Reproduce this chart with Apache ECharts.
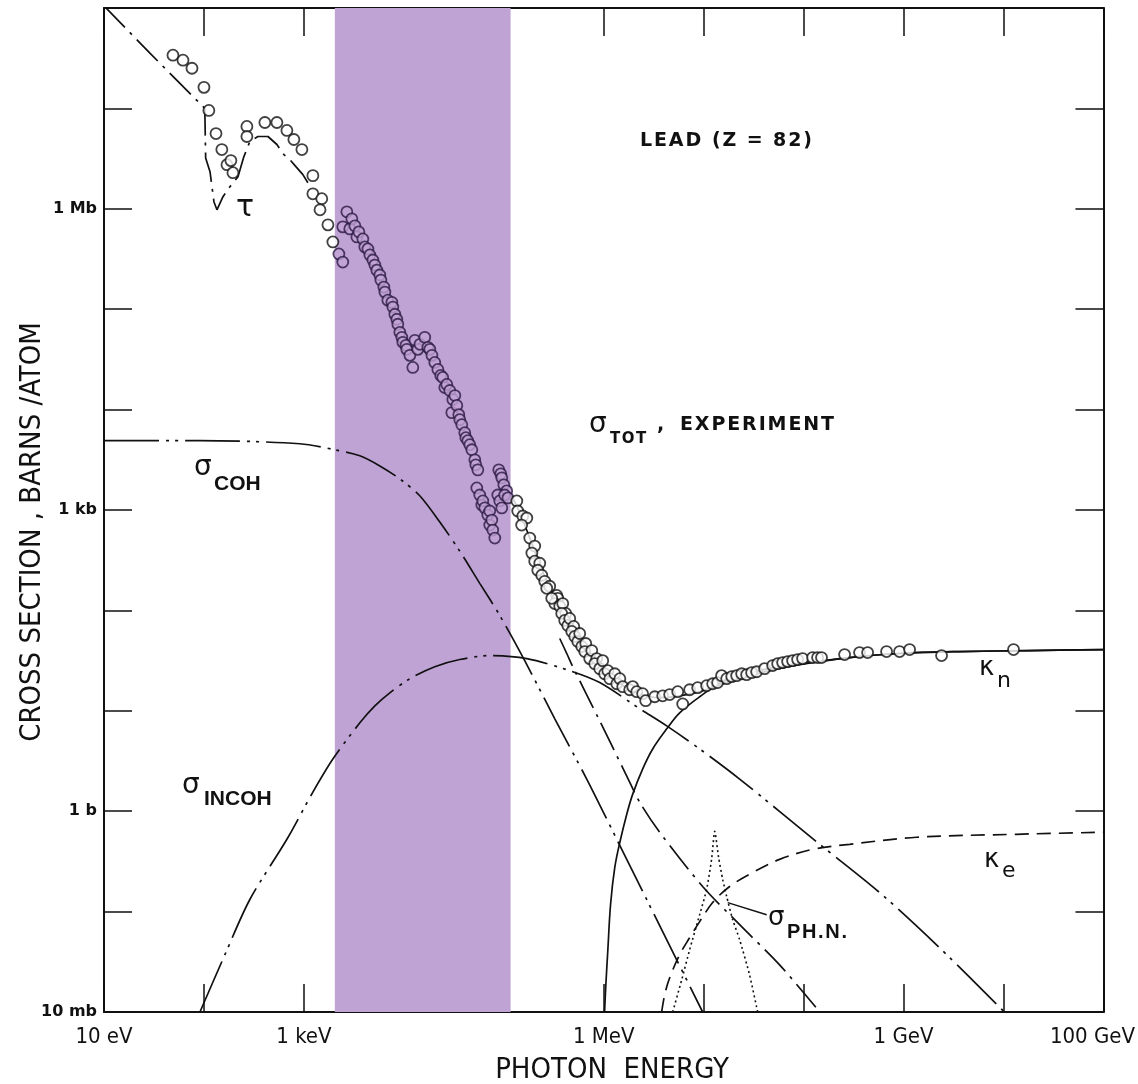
<!DOCTYPE html>
<html>
<head>
<meta charset="utf-8">
<title>Photon cross sections in lead</title>
<script src="https://cdn.jsdelivr.net/npm/echarts@6/dist/echarts.min.js"></script>
<style>
  html, body { margin: 0; padding: 0; background: #ffffff; }
  #chart { width: 1138px; height: 1084px; }
</style>
</head>
<body>
<div id="chart"></div>
<script>
// Photon energy in eV, cross sections in barns/atom (lead, Z = 82).

// Tick labels keyed by decade exponent
const energyTickLabels = { 1: '10 eV', 3: '1 keV', 6: '1 MeV', 9: '1 GeV', 11: '100 GeV' };
const sigmaTickLabels = { '-2': '10 mb', 0: '1 b', 3: '1 kb', 6: '1 Mb' };

// Highlighted energy window [eV]
const bandRange = [2.04e3, 1.17e5];

// Measured total cross section [E (eV), sigma (b)]
const measured = [
  [49, 3.39e7], [61.7, 3.02e7], [75.9, 2.51e7], [100, 1.62e7], [112, 9.55e6], [132, 5.62e6],
  [151, 3.89e6], [170, 2.75e6], [186, 3.02e6], [195, 2.29e6], [269, 6.61e6], [269, 5.25e6],
  [407, 7.24e6], [537, 7.24e6], [676, 6.03e6], [794, 4.90e6], [955, 3.89e6], [1230, 2.14e6],
  [1230, 1.41e6], [1510, 1.26e6], [1450, 9.77e5], [1740, 6.92e5], [1950, 4.68e5], [2240, 3.55e5],
  [2450, 2.95e5],
  [2450, 6.61e5], [2690, 9.33e5], [2880, 6.31e5], [3020, 7.94e5], [3240, 6.76e5], [3390, 5.25e5],
  [3550, 5.89e5], [3890, 5.01e5], [4070, 4.17e5], [4370, 3.98e5], [4570, 3.47e5], [4900, 3.09e5],
  [5130, 2.75e5], [5370, 2.45e5], [5750, 2.19e5], [5890, 1.95e5], [6310, 1.66e5], [6460, 1.48e5],
  [6920, 1.23e5], [7590, 1.17e5], [7760, 1.05e5], [8130, 8.91e4], [8510, 7.94e4], [8710, 7.08e4],
  [9120, 5.89e4], [9550, 5.25e4], [9770, 4.68e4], [1.05e4, 4.37e4], [1.07e4, 3.98e4],
  [1.15e4, 3.47e4], [1.23e4, 2.63e4],
  [1.29e4, 4.90e4], [1.38e4, 3.98e4], [1.45e4, 4.47e4], [1.62e4, 5.25e4], [1.74e4, 4.17e4],
  [1.82e4, 3.98e4], [1.91e4, 3.47e4], [2.04e4, 2.95e4], [2.19e4, 2.51e4], [2.34e4, 2.19e4],
  [2.45e4, 2.09e4], [2.57e4, 1.66e4], [2.69e4, 1.78e4], [2.88e4, 1.55e4], [3.09e4, 1.26e4],
  [3.24e4, 1.38e4], [3.02e4, 9.33e3], [3.39e4, 1.10e4], [3.55e4, 8.91e3], [3.63e4, 7.94e3],
  [3.80e4, 7.08e3], [4.07e4, 5.89e3], [4.17e4, 5.25e3], [4.37e4, 4.90e3], [4.57e4, 4.47e3],
  [4.79e4, 3.98e3], [5.13e4, 3.16e3], [5.25e4, 2.82e3], [5.50e4, 2.51e3],
  [5.37e4, 1.66e3], [5.75e4, 1.41e3], [6.03e4, 1.12e3], [6.17e4, 1.23e3], [6.46e4, 1.05e3],
  [6.92e4, 891], [7.24e4, 977], [7.24e4, 708], [7.59e4, 794], [7.76e4, 631], [8.13e4, 525],
  [8.91e4, 2.51e3], [9.33e4, 2.29e3], [9.55e4, 2.09e3], [1.00e5, 1.78e3], [1.07e5, 1.55e3],
  [8.71e4, 1.41e3], [9.12e4, 1.23e3], [9.55e4, 1.05e3], [1.02e5, 1.41e3], [1.10e5, 1.32e3],
  [1.35e5, 1.23e3], [1.38e5, 977], [1.55e5, 871], [1.70e5, 832], [1.51e5, 708], [1.82e5, 525],
  [2.04e5, 437], [1.91e5, 372], [2.04e5, 309], [2.29e5, 295], [2.19e5, 251], [2.40e5, 224],
  [2.57e5, 195], [2.88e5, 174], [2.69e5, 166], [3.39e5, 141], [3.47e5, 132], [3.24e5, 117],
  [3.02e5, 132], [3.63e5, 110], [3.89e5, 117], [4.17e5, 93.3], [3.80e5, 93.3], [4.07e5, 79.4],
  [4.37e5, 70.8], [4.57e5, 83.2], [5.01e5, 69.2], [4.79e5, 61.7], [5.13e5, 55.0], [5.50e5, 49.0],
  [5.75e5, 58.9], [6.03e5, 43.7], [6.61e5, 46.8], [6.46e5, 38.9], [7.24e5, 33.1], [7.59e5, 39.8],
  [8.51e5, 33.1], [8.13e5, 29.5], [9.12e5, 26.3], [9.77e5, 31.6], [1.02e6, 23.4], [1.10e6, 25.1],
  [1.15e6, 20.9], [1.29e6, 23.4], [1.35e6, 18.6], [1.45e6, 20.9], [1.55e6, 17.4], [1.82e6, 16.2],
  [1.95e6, 17.4], [2.14e6, 15.5], [2.45e6, 14.8], [2.63e6, 12.6], [3.24e6, 13.8], [3.89e6, 14.1],
  [4.57e6, 14.5], [5.50e6, 15.5], [6.17e6, 11.7], [7.24e6, 16.2], [8.71e6, 17.0], [1.07e7, 17.8],
  [1.23e7, 18.6], [1.38e7, 19.1], [1.51e7, 22.4], [1.70e7, 20.9], [1.91e7, 21.9], [2.14e7, 22.4],
  [2.40e7, 23.4], [2.69e7, 22.9], [3.02e7, 24.0], [3.39e7, 24.5], [4.07e7, 26.3], [4.90e7, 28.2],
  [5.50e7, 29.5], [6.17e7, 30.2], [6.92e7, 30.9], [7.76e7, 31.6], [8.71e7, 32.4], [9.77e7, 33.1],
  [1.23e8, 33.9], [1.38e8, 33.9], [1.51e8, 33.9], [2.57e8, 36.3], [3.63e8, 38.0], [4.37e8, 38.0],
  [6.76e8, 38.9], [9.12e8, 38.9], [1.15e9, 40.7], [2.40e9, 35.5], [1.26e10, 40.7]
];

// Atomic photoeffect (tau), low-energy part with the absorption-edge structure
const tauLow = [
  [10, 1.05e8], [28.8, 3.55e7], [102, 1.0e7], [104, 3.2e6], [115, 2.34e6], [126, 1.17e6],
  [135, 9.77e5], [155, 1.32e6], [182, 1.66e6], [219, 2.09e6], [251, 3.31e6], [288, 4.68e6],
  [347, 5.25e6], [437, 5.25e6], [537, 4.37e6], [631, 3.47e6], [724, 3.09e6], [832, 2.63e6],
  [977, 2.19e6], [1096, 1.82e6]
];
// Atomic photoeffect (tau), above the K edge
const tauHigh = [
  [3.63e5, 52.5], [4.27e5, 37.2], [4.90e5, 27.5], [9.12e5, 7.94], [1.70e6, 2.24], [2.29e6, 1.23],
  [3.63e6, 0.617], [9.77e6, 0.178], [2.29e7, 0.0741], [5.75e7, 0.0295], [1.45e8, 0.01]
];
// Rayleigh (coherent) scattering
const sigmaCoh = [
  [10, 4.90e3], [91.2, 4.90e3], [912, 4.57e3], [2.04e3, 3.98e3], [3.63e3, 3.47e3], [5.75e3, 2.75e3],
  [9.12e3, 2.04e3], [1.45e4, 1.38e3], [2.29e4, 759], [3.63e4, 389], [5.75e4, 186], [9.12e4, 89.1],
  [1.62e5, 31.6], [3.24e5, 8.32], [6.76e5, 2.09], [1.35e6, 0.525], [2.69e6, 0.132],
  [5.37e6, 0.0331], [9.77e6, 0.01]
];
// Compton (incoherent) scattering
const sigmaIncoh = [
  [91.2, 0.01], [162, 0.0372], [288, 0.132], [676, 0.525], [1.23e3, 1.55], [1.95e3, 3.31],
  [3.63e3, 7.59], [5.13e3, 11.2], [7.24e3, 15.1], [1.15e4, 20.9], [2.04e4, 27.5], [3.63e4, 32.4],
  [7.24e4, 35.5], [1.70e5, 33.1], [4.57e5, 25.1], [9.12e5, 19.1], [2.29e6, 10.5], [4.27e6, 7.08],
  [9.12e6, 4.17], [2.29e7, 2.09], [1.45e8, 0.468], [5.75e8, 0.155], [2.29e9, 0.0437],
  [1.02e10, 0.01]
];
// Pair production in the nuclear field
const kappaN = [
  [1.02e6, 0.01], [1.05e6, 0.0186], [1.10e6, 0.0417], [1.17e6, 0.117], [1.29e6, 0.275],
  [1.45e6, 0.490], [1.70e6, 0.933], [1.95e6, 1.48], [2.45e6, 2.63], [3.09e6, 4.17], [4.27e6, 6.61],
  [5.75e6, 9.55], [9.12e6, 13.8], [1.55e7, 19.5], [3.63e7, 25.1], [9.12e7, 29.5], [2.88e8, 33.9],
  [9.12e8, 37.2], [3.63e9, 38.9], [1.82e10, 39.8], [1e11, 40.7]
];
// Pair production in the electron field
const kappaE = [
  [3.80e6, 0.01], [4.07e6, 0.0148], [4.57e6, 0.0219], [5.75e6, 0.0372], [7.24e6, 0.0550],
  [9.12e6, 0.0794], [1.23e7, 0.123], [1.82e7, 0.178], [3.09e7, 0.245], [5.75e7, 0.331],
  [1.23e8, 0.417], [2.88e8, 0.468], [1.35e9, 0.550], [1.35e10, 0.589], [1e11, 0.617]
];
// Photonuclear absorption (giant dipole resonance)
const sigmaPhN = [
  [4.90e6, 0.01], [6.03e6, 0.0209], [7.24e6, 0.0417], [9.12e6, 0.0933], [1.07e7, 0.166],
  [1.20e7, 0.331], [1.29e7, 0.631], [1.41e7, 0.347], [1.55e7, 0.209], [1.70e7, 0.141],
  [1.95e7, 0.0832], [2.29e7, 0.0525], [2.88e7, 0.0234], [3.47e7, 0.01]
];
// Calculated total cross section
const sigmaTot = [
  [1.20e5, 1.38e3], [1.45e5, 933], [1.82e5, 525], [2.57e5, 219], [3.63e5, 110], [5.13e5, 58.9],
  [7.24e5, 36.3], [1.02e6, 25.1], [1.45e6, 18.6], [2.29e6, 14.8], [3.63e6, 13.5], [5.75e6, 14.1],
  [9.12e6, 15.5], [1.45e7, 18.2], [2.29e7, 20.9], [4.57e7, 25.1], [9.12e7, 28.8], [2.88e8, 33.9],
  [9.12e8, 37.2], [3.63e9, 38.9], [1.82e10, 39.8], [1e11, 40.7]
];
// Leader arrow for the photonuclear label: [from, to]
const phnPointer = [[4.27e7, 0.093], [1.74e7, 0.123]];

const INK = '#111111';
const BAND = '#c0a3d5';
const BAND_INK = '#2c1a42';
const NARROW = '"Liberation Sans Narrow", "DejaVu Sans Condensed", "Liberation Sans", sans-serif';
const SANS = '"Liberation Sans", "DejaVu Sans", sans-serif';
const GREEK = '"DejaVu Sans", sans-serif';

const inBand = e => e >= bandRange[0] && e <= bandRange[1];
const decade = v => Math.round(Math.log10(v));
// Lettering with a little extra space between characters
const spaced = s => s.split('').join('\u200A');

function curve(name, data, dash, smooth) {
  return {
    name, type: 'line', data, xAxisIndex: 0, yAxisIndex: 0,
    symbol: 'none', smooth: smooth, z: 4, silent: true, clip: true,
    lineStyle: { color: INK, width: 1.7, type: dash }
  };
}

const chart = echarts.init(document.getElementById('chart'), null, { renderer: 'canvas' });

const logAxisBase = (min, max) => ({
  type: 'log', logBase: 10, min, max, interval: 1,
  splitLine: { show: false },
  axisLine: { show: true, lineStyle: { color: INK, width: 2 } },
  axisTick: { show: true, inside: true, length: 28, lineStyle: { color: INK, width: 1.5 } },
  minorTick: { show: false }
});

function text(x, y, str, font, align) {
  return {
    type: 'text', x, y, silent: true,
    style: { text: str, font, fill: INK, align: align || 'left', verticalAlign: 'middle' }
  };
}

const option = {
  animation: false,
  backgroundColor: '#ffffff',
  grid: { left: 104, right: 33, top: 8, bottom: 72, containLabel: false },
  xAxis: [
    Object.assign(logAxisBase(10, 1e11), {
      position: 'bottom',
      axisLabel: {
        show: true, margin: 14, color: INK, fontFamily: NARROW, fontSize: 22,
        formatter: v => {
          const k = decade(v);
          if (k === 11) return '{last|' + energyTickLabels[k] + '}';
          return energyTickLabels[k] || '';
        },
        rich: { last: { fontFamily: NARROW, fontSize: 22, color: INK, padding: [0, 22, 0, 0] } }
      }
    }),
    Object.assign(logAxisBase(10, 1e11), { position: 'top', axisLabel: { show: false } })
  ],
  yAxis: [
    Object.assign(logAxisBase(0.01, 1e8), {
      position: 'left',
      axisLabel: {
        show: true, margin: 7, color: INK, fontFamily: GREEK, fontSize: 16, fontWeight: 'bold',
        formatter: v => sigmaTickLabels[decade(v)] || ''
      }
    }),
    Object.assign(logAxisBase(0.01, 1e8), { position: 'right', axisLabel: { show: false } })
  ],
  series: [
    {
      name: 'band', type: 'line', data: [], z: 1, silent: true,
      markArea: {
        silent: true,
        itemStyle: { color: BAND, opacity: 1 },
        data: [[{ xAxis: bandRange[0] }, { xAxis: bandRange[1] }]]
      }
    },
    curve('tau', tauLow, [30, 7, 3, 7], false),
    curve('tau high', tauHigh, [30, 7, 3, 7], 0.3),
    curve('coherent', sigmaCoh, [55, 7, 3, 6, 3, 7], 0.3),
    curve('incoherent', sigmaIncoh, [55, 7, 3, 6, 3, 7], 0.3),
    curve('kappa n', kappaN, 'solid', 0.35),
    curve('kappa e', kappaE, [14, 8], 0.35),
    Object.assign(curve('photonuclear', sigmaPhN, [2, 3], 0.2), {
      lineStyle: { color: INK, width: 1.6, type: [2, 3] },
      markLine: {
        silent: true, symbol: ['none', 'arrow'], symbolSize: [0, 9],
        label: { show: false },
        lineStyle: { color: INK, width: 1.4, type: 'solid' },
        data: [[{ coord: phnPointer[0] }, { coord: phnPointer[1] }]]
      }
    }),
    curve('total', sigmaTot, 'solid', 0.35),
    {
      name: 'experiment', type: 'scatter', xAxisIndex: 0, yAxisIndex: 0, z: 10, silent: true,
      symbol: 'circle', symbolSize: 11,
      itemStyle: { color: '#ffffff', borderColor: INK, borderWidth: 1.8 },
      data: measured.map(p => inBand(p[0])
        ? { value: p, itemStyle: { color: BAND, borderColor: BAND_INK } }
        : { value: p })
    }
  ],
  graphic: [
    // Axis titles
    text(612, 1070, 'PHOTON  ENERGY', '29px ' + NARROW, 'center'),
    {
      type: 'text', x: 32, y: 532, rotation: Math.PI / 2, silent: true,
      style: { text: 'CROSS SECTION , BARNS /ATOM', font: '29px ' + NARROW, fill: INK,
               align: 'center', verticalAlign: 'middle' }
    },
    // Element
    text(640, 141, spaced('LEAD'), 'bold 19px ' + GREEK),
    text(712, 141, spaced('(Z = 82)'), 'bold 19px ' + GREEK),
    // Curve labels
    text(589, 425, 'σ', '28px ' + GREEK),
    text(610, 439, spaced('TOT'), 'bold 15px ' + GREEK),
    text(657, 425, ',', 'bold 19px ' + GREEK),
    text(680, 425, spaced('EXPERIMENT'), 'bold 19px ' + GREEK),
    text(194, 468, 'σ', '28px ' + GREEK),
    text(214, 484, 'COH', 'bold 21px ' + SANS),
    text(182, 786, 'σ', '28px ' + GREEK),
    text(204, 799, 'INCOH', 'bold 21px ' + SANS),
    text(236, 208, 'τ', '30px ' + GREEK),
    text(979, 668, 'κ', '26px ' + GREEK),
    text(997, 681, 'n', '22px ' + GREEK),
    text(984, 860, 'κ', '26px ' + GREEK),
    text(1002, 871, 'e', '22px ' + GREEK),
    text(768, 918, 'σ', '26px ' + GREEK),
    text(787, 932, spaced('PH.N.'), 'bold 20px ' + SANS)
  ]
};

chart.setOption(option);
</script>
</body>
</html>
